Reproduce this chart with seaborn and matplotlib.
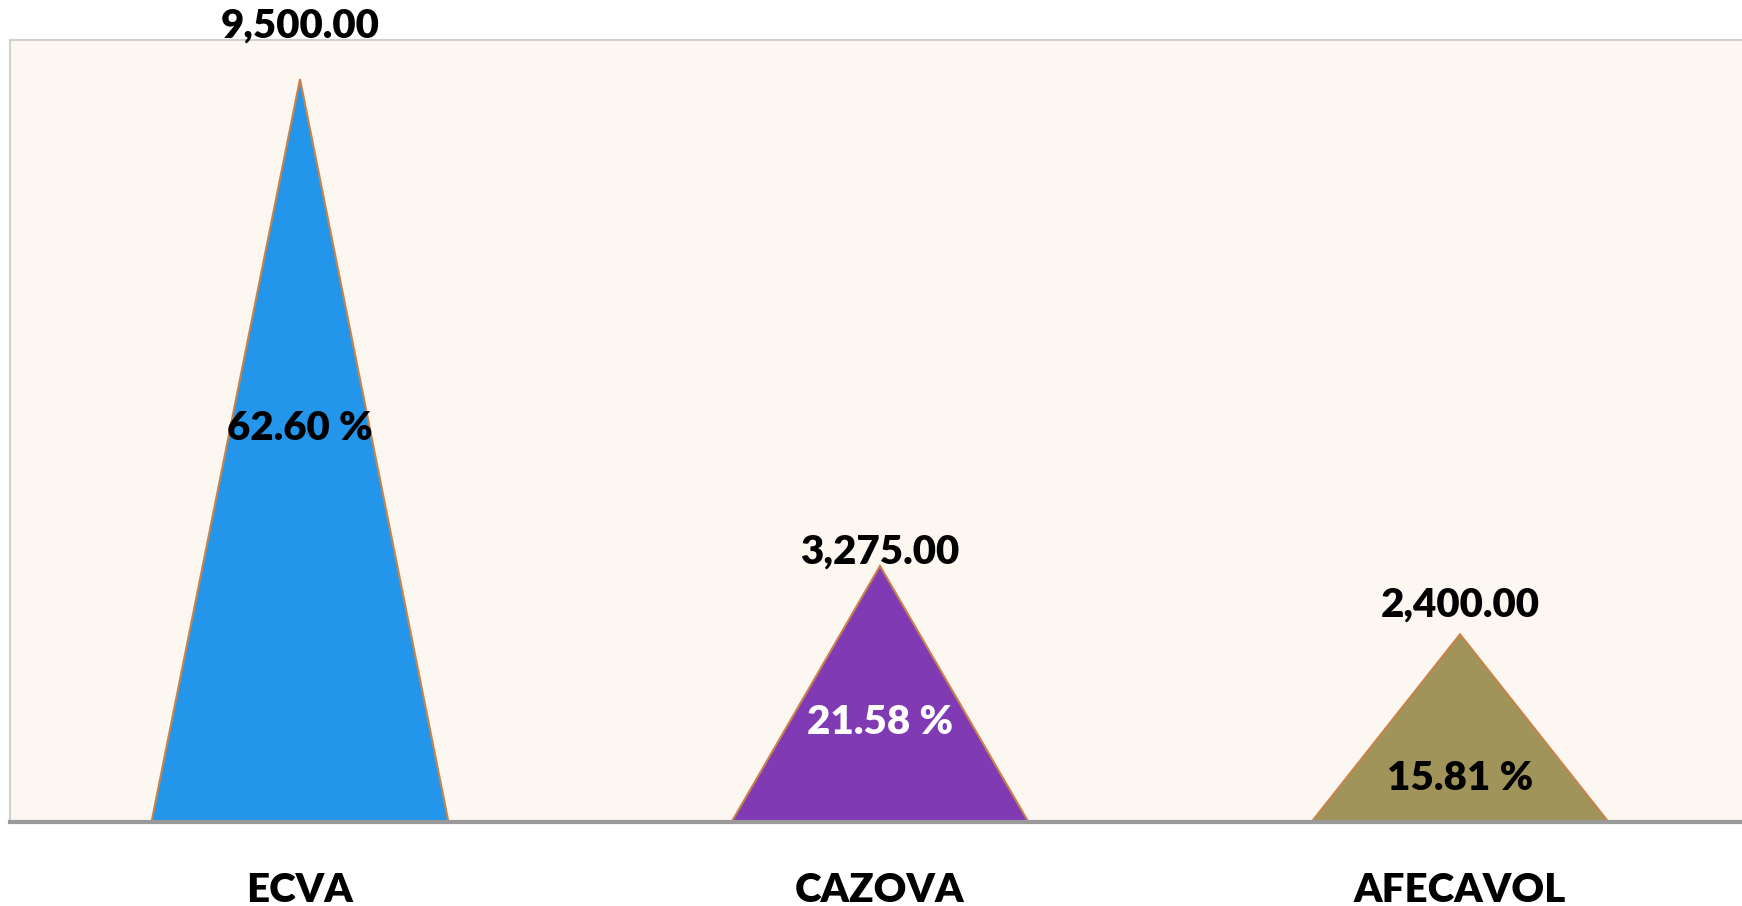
import matplotlib
matplotlib.use("Agg")
import matplotlib.pyplot as plt
import seaborn as sns
import pandas as pd

# Data
categories = ["ECVA", "CAZOVA", "AFECAVOL"]
values = [9500.00, 3275.00, 2400.00]
percents = [62.60, 21.58, 15.81]

colors = ["#2396EB", "#803AB4", "#A0945A"]
pct_colors = ["black", "white", "black"]
# where labels sit (styling only)
value_offsets_px = [35, -5, 11]
pct_height_frac = [0.53, 0.39, 0.23]

df = pd.DataFrame({"categoria": categories, "valor": values})

sns.set_style("white")
plt.rcParams["font.family"] = ["Lato", "DejaVu Sans"]

fig = plt.figure(figsize=(17.42, 9.06), dpi=100)
fig.patch.set_facecolor("white")
ax = fig.add_axes([10 / 1742, 84 / 906, 1740 / 1742, 782 / 906])
ax.set_facecolor("#FDF7F1")

sns.barplot(data=df, x="categoria", y="valor", hue="categoria",
            palette=colors, width=0.512, legend=False, ax=ax)

# turn the bars into triangles
bars = list(ax.patches)
for i, p in enumerate(bars):
    x0 = p.get_x()
    w = p.get_width()
    h = p.get_height()
    ax.fill([x0, x0 + w / 2, x0 + w], [0, h, 0],
            facecolor=colors[i], edgecolor="#C8824A", linewidth=1.5, zorder=3)
    p.set_visible(False)

    ax.annotate(f"{values[i]:,.2f}", xy=(x0 + w / 2, h),
                xytext=(0, value_offsets_px[i] * 0.72), textcoords="offset points",
                ha="center", va="bottom", fontsize=29, fontweight="heavy",
                color="black", annotation_clip=False, zorder=5)
    ax.text(x0 + w / 2, h * pct_height_frac[i], f"{percents[i]:.2f} %",
            ha="center", va="center", fontsize=29, fontweight="heavy",
            color=pct_colors[i], zorder=5)

ax.set_xlim(-0.5, 2.5)
ax.set_ylim(0, 10000)
ax.set_xlabel("")
ax.set_ylabel("")
ax.set_yticks([])
ax.tick_params(axis="x", length=0, pad=36, labelsize=29, labelcolor="black")
for lbl in ax.get_xticklabels():
    lbl.set_fontweight("heavy")

ax.spines["left"].set_color("#D0D0D0")
ax.spines["top"].set_color("#D0D0D0")
ax.spines["left"].set_linewidth(1.5)
ax.spines["top"].set_linewidth(1.5)
ax.spines["right"].set_visible(False)
ax.spines["bottom"].set_color("#9A9A9A")
ax.spines["bottom"].set_linewidth(3)
ax.spines["bottom"].set_zorder(6)

fig.savefig("out.png", dpi=100, facecolor="white")
